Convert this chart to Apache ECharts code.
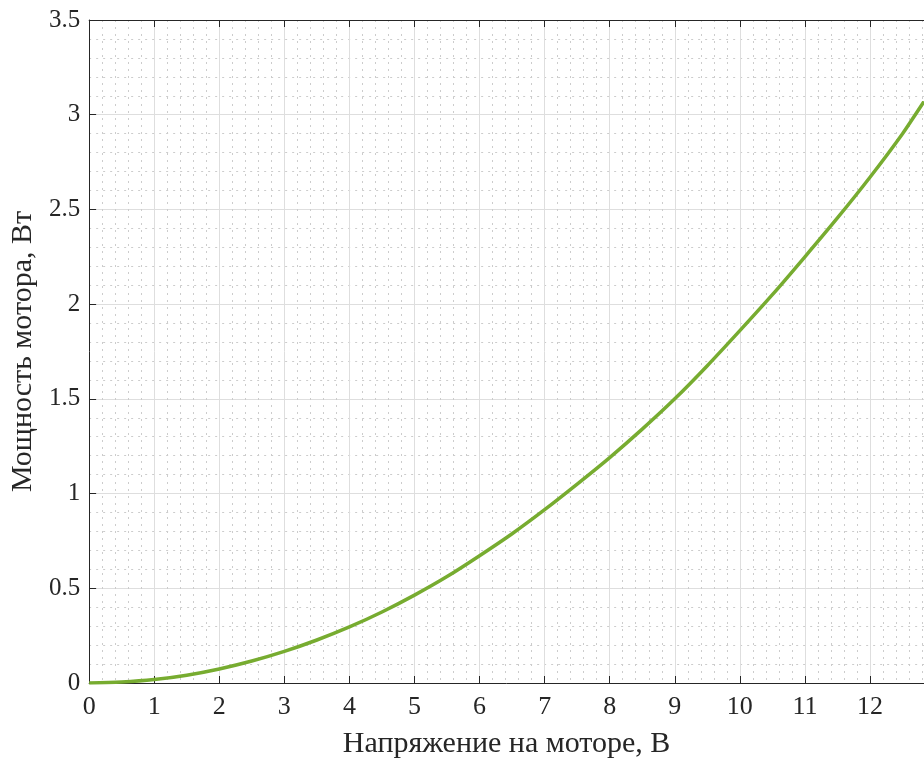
<!DOCTYPE html>
<html>
<head>
<meta charset="utf-8">
<script src="https://cdn.jsdelivr.net/npm/echarts@6/dist/echarts.min.js"></script>
<style>
html,body{margin:0;padding:0;background:#fff;}
#chart{width:924px;height:764px;}
</style>
</head>
<body>
<div id="chart"></div>
<script>
const voltage = [0, 0.5, 1, 1.5, 2, 2.5, 3, 3.5, 4, 4.5, 5, 5.5, 6, 6.5, 7, 7.5, 8, 8.5, 9, 9.5, 10, 10.5, 11, 11.5, 12, 12.5, 12.83];
const power   = [0, 0.005, 0.018, 0.041, 0.074, 0.116, 0.167, 0.227, 0.296, 0.375, 0.464, 0.562, 0.672, 0.788, 0.915, 1.05, 1.19, 1.34, 1.50, 1.675, 1.86, 2.05, 2.25, 2.455, 2.67, 2.90, 3.07];
const xTitle = 'Напряжение на моторе, В';
const yTitle = 'Мощность мотора, Вт';
const xMin = 0, xMax = 12.83, xStep = 1;
const yMin = 0, yMax = 3.5, yStep = 0.5;

const FONT = 'Liberation Serif';
const AX = '#262626';
const chart = echarts.init(document.getElementById('chart'), null, {renderer: 'canvas'});
const minorLine = {show: true, lineStyle: {color: '#cccccc', width: 1, type: [2, 5]}};
const majorLine = {show: true, lineStyle: {color: '#dedede', width: 1, type: 'solid'}};
chart.setOption({
  animation: false,
  backgroundColor: '#ffffff',
  grid: {left: 89, right: 0, top: 20, bottom: 78, containLabel: false},
  xAxis: [{
    type: 'value', min: xMin, max: xMax, interval: xStep, position: 'bottom',
    name: xTitle, nameLocation: 'middle', nameGap: 46,
    nameTextStyle: {fontFamily: FONT, fontSize: 30, color: AX},
    axisLine: {show: true, onZero: false, lineStyle: {color: AX, width: 1}},
    axisTick: {show: true, inside: true, length: 7, lineStyle: {color: AX}},
    axisLabel: {fontFamily: FONT, fontSize: 26, color: AX, margin: 11, showMaxLabel: false,
      formatter: v => Number.isInteger(v) ? String(v) : ''},
    splitLine: majorLine,
    minorTick: {show: false, splitNumber: 5},
    minorSplitLine: minorLine
  }, {
    type: 'value', min: xMin, max: xMax, interval: xStep, position: 'top',
    axisLine: {show: true, onZero: false, lineStyle: {color: AX, width: 1}},
    axisTick: {show: true, inside: true, length: 7, lineStyle: {color: AX}},
    axisLabel: {show: false},
    splitLine: {show: false}
  }],
  yAxis: [{
    type: 'value', min: yMin, max: yMax, interval: yStep,
    name: yTitle, nameLocation: 'middle', nameGap: 42,
    nameTextStyle: {fontFamily: FONT, fontSize: 30, color: AX},
    axisLine: {show: true, onZero: false, lineStyle: {color: AX, width: 1}},
    axisTick: {show: true, inside: true, length: 7, lineStyle: {color: AX}},
    axisLabel: {fontFamily: FONT, fontSize: 25, color: AX, margin: 9},
    splitLine: majorLine,
    minorTick: {show: false, splitNumber: 5},
    minorSplitLine: minorLine
  }],
  series: [{
    type: 'line',
    data: voltage.map((v, i) => [v, power[i]]),
    smooth: 0.3,
    showSymbol: false,
    lineStyle: {color: '#77AC30', width: 3.5},
    clip: true
  }]
});
</script>
</body>
</html>
